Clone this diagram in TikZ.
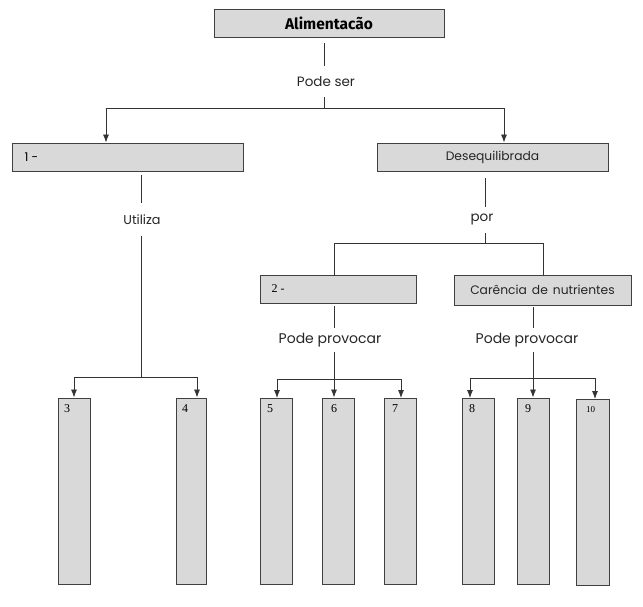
\documentclass[tikz,border=0pt]{standalone}
\usepackage{fontspec}
\setmainfont{Liberation Serif}
\newfontfamily\geofont{Poppins}
\newfontfamily\titlefont{Fira Sans}
\usetikzlibrary{arrows.meta}
\tikzset{
  gbox/.style={draw=black!75, line width=0.9pt, fill=black!15, inner sep=0pt},
  lbl/.style={font=\geofont\fontsize{13.5}{15}\selectfont, text=black!85, inner sep=1pt},
  btxt/.style={font=\geofont\fontsize{12.3}{14}\selectfont, text=black!85},
  conn/.style={draw=black!80, line width=0.8pt},
  arr/.style={conn, -{Latex[length=8pt,width=6pt]}},
  num/.style={font=\fontsize{12}{14}\selectfont, anchor=north west, inner sep=0pt},
}
\begin{document}
\begin{tikzpicture}[x=1pt,y=-1pt]
\useasboundingbox (0,0) rectangle (643,606);
% top box
\node[gbox, minimum width=230pt, minimum height=28pt, font=\titlefont\fontsize{15.5}{17}\selectfont\bfseries] (top) at (329,23) {Alimentacão};
\node[lbl] (podeser) at (326,82) {Pode ser};
\coordinate (hsplit) at (324,108);
\coordinate (hl) at (106,108);
\coordinate (hr) at (504,108);
% level 2
\node[gbox, minimum width=231pt, minimum height=28pt] (b1) at (127.5,157) {};
\node[font=\geofont\fontsize{12}{14}\selectfont, anchor=west] (b1t) at (21,157) {1 -};
\node[gbox, btxt, minimum width=231pt, minimum height=28pt] (des) at (492.5,157) {Desequilibrada};
% connectors top
\draw[conn] (324,43) -- (324,66);
\draw[conn] (324,97) -- (hsplit);
\draw[arr] (hsplit) -- (hl) -- (hl |- b1.north);
\draw[arr] (hsplit) -- (hr) -- (hr |- des.north);
% left branch
\node[lbl, font=\geofont\fontsize{12.8}{14}\selectfont] (utiliza) at (142,220) {Utiliza};
\coordinate (uh) at (141,377);
\coordinate (ul) at (74,377);
\coordinate (ur) at (197,377);
\draw[conn] (141,175) -- (141,203);
\draw[conn] (141,236) -- (uh);
\node[gbox, minimum width=32pt, minimum height=186pt] (n3) at (74,491) {};
\node[gbox, minimum width=30pt, minimum height=186pt] (n4) at (191,491) {};
\draw[arr] (uh) -- (ul) -- (ul |- n3.north);
\draw[arr] (uh) -- (ur) -- (ur |- n4.north);
% right branch
\node[lbl] (por) at (482,219) {por};
\draw[conn] (485,178) -- (485,207);
\coordinate (ph) at (485,243);
\draw[conn] (485,233) -- (ph);
\node[gbox, minimum width=156pt, minimum height=28pt] (b2) at (338,289) {};
\node[font=\fontsize{12}{14}\selectfont, anchor=west] (b2t) at (268,289) {2 -};
\node[gbox, btxt, minimum width=177pt, minimum height=30pt] (car) at (542.5,290) {Carência\hspace{5pt}de\hspace{5pt}nutrientes};
\draw[conn] (ph) -- (334,243) -- (334,275.5);
\draw[conn] (ph) -- (543,243) -- (543,274.5);
% 2- branch
\node[lbl, font=\geofont\fontsize{14}{16}\selectfont] (pp1) at (330,340) {Pode provocar};
\draw[conn] (334,306) -- (334,328);
\coordinate (p1h) at (334,379);
\draw[conn] (334,352) -- (p1h);
\node[gbox, minimum width=32pt, minimum height=186pt] (n5) at (276,491) {};
\node[gbox, minimum width=32pt, minimum height=186pt] (n6) at (338,491) {};
\node[gbox, minimum width=32pt, minimum height=186pt] (n7) at (400,491) {};
\draw[arr] (p1h) -- (277,379) -- (277,398);
\draw[arr] (p1h) -- (p1h |- n6.north);
\draw[arr] (p1h) -- (401,379) -- (401,398);
% carencia branch
\node[lbl, font=\geofont\fontsize{14}{16}\selectfont] (pp2) at (527,340) {Pode provocar};
\draw[conn] (533,307) -- (533,328);
\coordinate (p2h) at (533,378);
\draw[conn] (533,352) -- (p2h);
\node[gbox, minimum width=32pt, minimum height=186pt] (n8) at (478,491) {};
\node[gbox, minimum width=32pt, minimum height=186pt] (n9) at (533,491) {};
\node[gbox, minimum width=33pt, minimum height=186pt] (n10) at (592.5,492) {};
\draw[arr] (p2h) -- (470,378) -- (470,398);
\draw[arr] (p2h) -- (p2h |- n9.north);
\draw[arr] (p2h) -- (595,378) -- (595,399);
% numbers
\node[num] at (64,404) {3};
\node[num] at (182,404) {4};
\node[num] at (267,404) {5};
\node[num] at (331,404) {6};
\node[num] at (392,404) {7};
\node[num] at (469,404) {8};
\node[num] at (525,404) {9};
\node[num, font=\fontsize{9}{11}\selectfont] at (586,406) {10};
\end{tikzpicture}
\end{document}
